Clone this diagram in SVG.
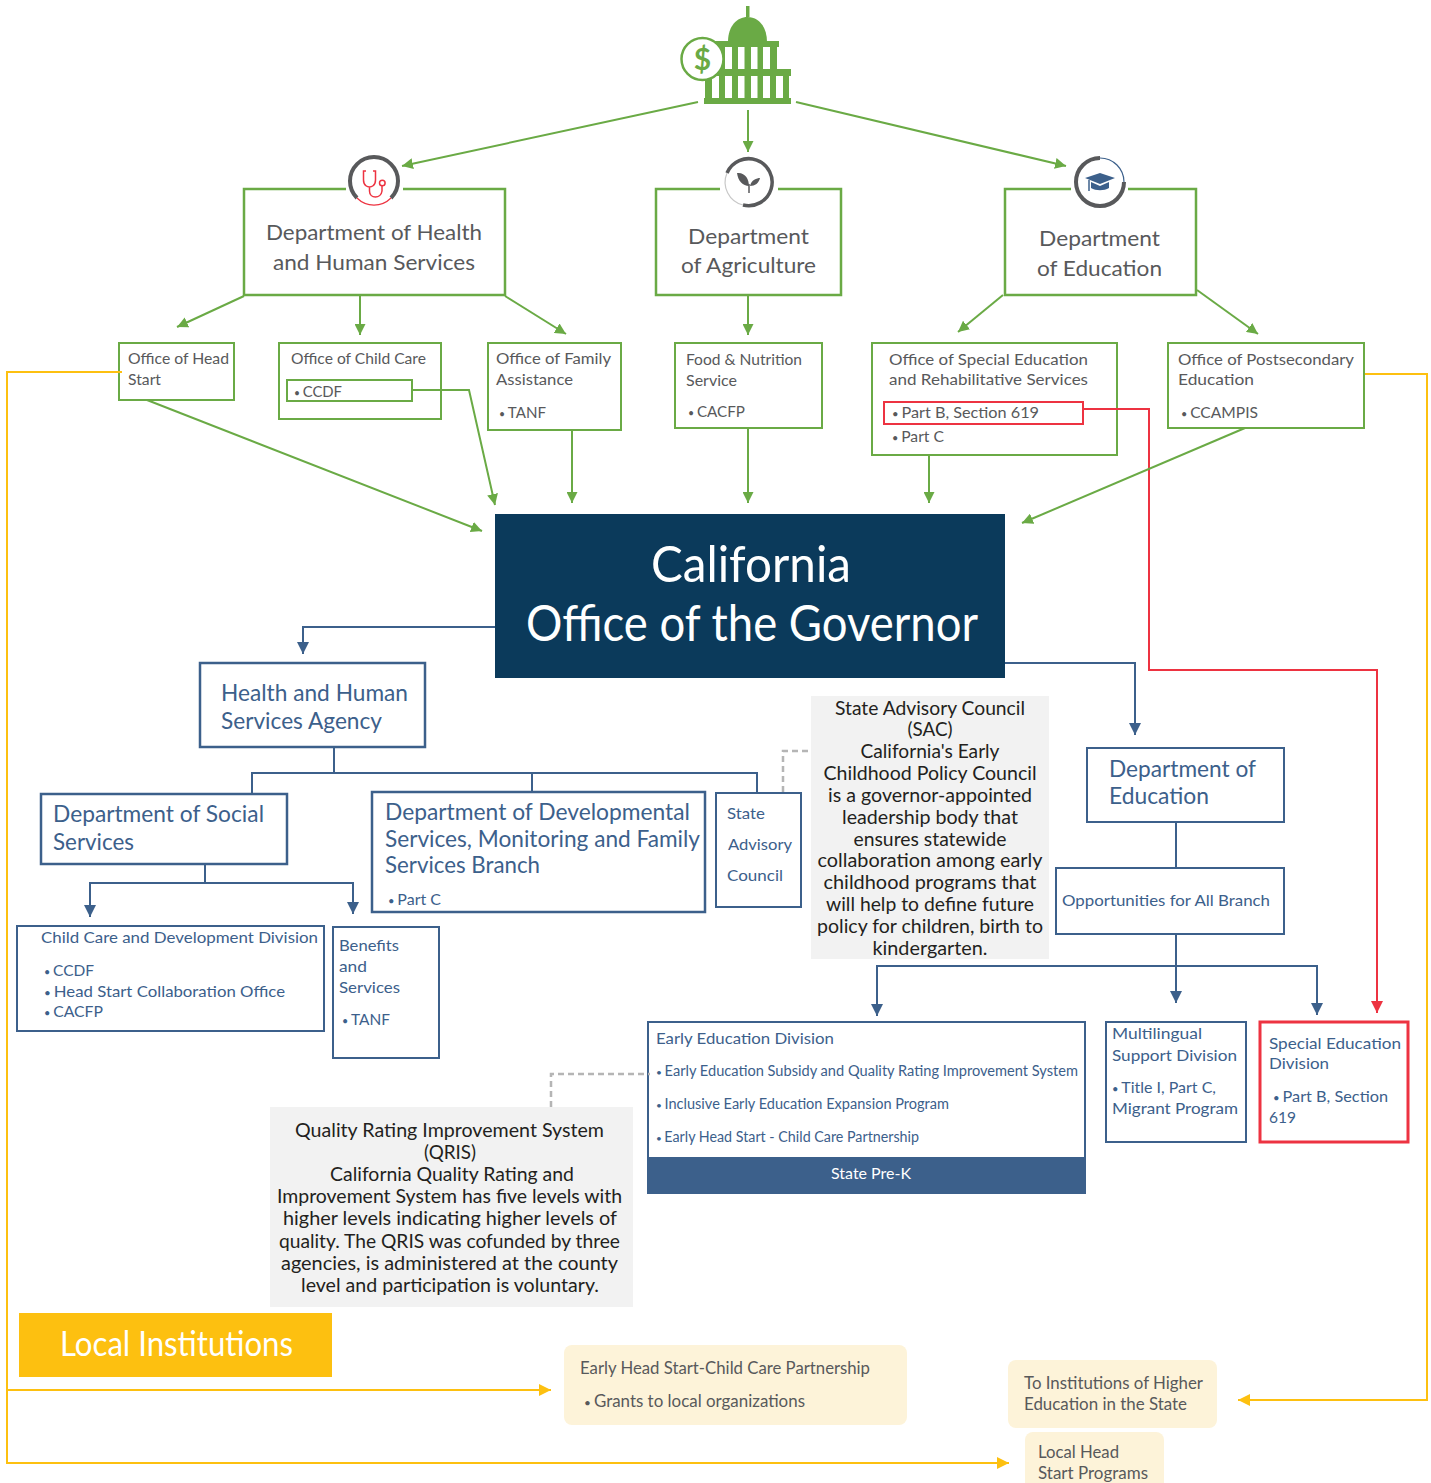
<svg xmlns="http://www.w3.org/2000/svg" width="1431" height="1483" viewBox="0 0 1431 1483">
<style>
text{font-family:Lato,"Noto Sans","Liberation Sans",sans-serif}
.gb{fill:#fff;stroke:#6aaa45;stroke-width:2}
.gf{fill:none;stroke:#6aaa45;stroke-width:2.500}
.bb{fill:#fff;stroke:#3c608b;stroke-width:2}
.bt{fill:#fff;stroke:#3c608b;stroke-width:2.500}
.gl{fill:none;stroke:#6aaa45;stroke-width:2}
.bl{fill:none;stroke:#3c608b;stroke-width:2}
.rl{fill:none;stroke:#ed3341;stroke-width:2}
.yl{fill:none;stroke:#fdc010;stroke-width:2}
.dl{fill:none;stroke:#b5b5b5;stroke-width:2.500;stroke-dasharray:6 4}
.g23{font-size:22px;fill:#58595b}
.g17{font-size:16px;fill:#58595b}
.b24{font-size:23px;fill:#3c608b}
.b17{font-size:16px;fill:#3c608b}
.b15{font-size:14.500px;fill:#3c608b}
.k20{font-size:19.500px;fill:#231f20;text-anchor:middle}
.w52{font-size:50px;fill:#fff}
.y18{font-size:17px;fill:#58595b}
.u{font-size:.7em}
</style>
<defs>
<marker id="ag" markerUnits="userSpaceOnUse" markerWidth="12" markerHeight="11" refX="11" refY="5.500" orient="auto"><path d="M0 0L11 5.500L0 11z" fill="#6aaa45"/></marker>
<marker id="ab" markerUnits="userSpaceOnUse" markerWidth="13" markerHeight="12" refX="12" refY="6" orient="auto"><path d="M0 0L12 6L0 12z" fill="#3c608b"/></marker>
<marker id="ar" markerUnits="userSpaceOnUse" markerWidth="13" markerHeight="12" refX="12" refY="6" orient="auto"><path d="M0 0L12 6L0 12z" fill="#ed3341"/></marker>
<marker id="ay" markerUnits="userSpaceOnUse" markerWidth="13" markerHeight="12" refX="12" refY="6" orient="auto"><path d="M0 0L12 6L0 12z" fill="#fdc010"/></marker>
</defs>

<g id="capitol">
<path d="M746 6h3.500v11h-3.500z" fill="#6aaa45"/>
<path d="M728 42C728 26 737 17 747.500 17C758 17 767 26 767 42z" fill="#6aaa45"/>
<path d="M715 41h64v6h-2v22h14v7h-2v22h2v6h-87v-6h1v-22h8v-7h2z" fill="#6aaa45"/>
<g fill="#fff">
<rect x="725" y="47" width="7" height="22"/><rect x="738" y="47" width="6.500" height="22"/><rect x="751" y="47" width="6.500" height="22"/><rect x="763" y="47" width="7" height="22"/>
<rect x="712" y="76" width="7" height="22"/><rect x="725" y="76" width="7" height="22"/><rect x="738" y="76" width="6.500" height="22"/><rect x="751" y="76" width="6.500" height="22"/><rect x="763" y="76" width="7" height="22"/><rect x="776" y="76" width="7" height="22"/>
</g>
<circle cx="702.500" cy="59" r="21" fill="#fff" stroke="#6aaa45" stroke-width="2.500"/>
<text x="702.500" y="70" font-size="30" font-weight="700" fill="#6aaa45" text-anchor="middle">$</text>
</g>

<g id="dept-hhs">
<path class="gf" d="M346 189H244V295H505V189H403"/>
<text class="g23"><tspan x="266" y="240" textLength="216" lengthAdjust="spacingAndGlyphs">Department of Health</tspan><tspan x="273" y="270" textLength="202" lengthAdjust="spacingAndGlyphs">and Human Services</tspan></text>
<path d="M357 198A24 24 0 1 1 391 198" fill="none" stroke="#58595b" stroke-width="4"/>
<path d="M357 198A24 24 0 0 0 391 198" fill="none" stroke="#ed3341" stroke-width="1.200"/>
<path d="M366 171H363.500V180C363.500 186 368 187 369.500 187C371 187 375.500 186 375.500 180V171H373M369.500 187V191C369.500 199 381 199 382 191V186" fill="none" stroke="#ed3341" stroke-width="1.500"/>
<circle cx="382.300" cy="183" r="2.800" fill="none" stroke="#ed3341" stroke-width="1.500"/>
</g>
<g id="dept-ag">
<path class="gf" d="M720 189H656V295H841V189H778"/>
<text class="g23"><tspan x="688" y="244" textLength="121" lengthAdjust="spacingAndGlyphs">Department</tspan><tspan x="681" y="273" textLength="135" lengthAdjust="spacingAndGlyphs">of Agriculture</tspan></text>
<path d="M727 173A23.500 23.500 0 1 1 743 205" fill="none" stroke="#58595b" stroke-width="3.500"/>
<path d="M743 205A23.500 23.500 0 0 1 727 173" fill="none" stroke="#c8c8c8" stroke-width="1.200"/>
<path d="M737 173C745 172 749 179 749 186C743 186 738 181 737 173zM760 178C757 178 751 180 750 186C755 186 759 183 760 178z" fill="#58595b"/>
<path d="M749 184V193" stroke="#58595b" stroke-width="1.500" fill="none"/>
</g>
<g id="dept-ed">
<path class="gf" d="M1071 189H1005V295H1196V189H1128"/>
<text class="g23"><tspan x="1039" y="246" textLength="121" lengthAdjust="spacingAndGlyphs">Department</tspan><tspan x="1037" y="276" textLength="125" lengthAdjust="spacingAndGlyphs">of Education</tspan></text>
<path d="M1100 158A24 24 0 1 0 1124 182" fill="none" stroke="#58595b" stroke-width="4"/>
<path d="M1100 158A24 24 0 0 1 1124 182" fill="none" stroke="#3c608b" stroke-width="1.200"/>
<path d="M1085 178L1100 173L1115 178L1100 184z" fill="#3c608b"/>
<path d="M1091 182V188C1096 191 1104 191 1109 188V182L1100 186z" fill="#3c608b"/>
<path d="M1089 180V191" stroke="#3c608b" stroke-width="1.500" fill="none"/>
</g>

<g id="office-head-start">
<rect class="gb" x="119" y="343" width="115" height="57"/>
<text class="g17"><tspan x="128" y="364" textLength="101" lengthAdjust="spacingAndGlyphs">Office of Head</tspan><tspan x="128" y="385" textLength="33" lengthAdjust="spacingAndGlyphs">Start</tspan></text>
</g>
<g id="office-child-care">
<rect class="gb" x="279" y="343" width="162" height="76"/>
<text class="g17" x="291" y="364" textLength="135" lengthAdjust="spacingAndGlyphs">Office of Child Care</text>
<rect class="gb" style="fill:none" x="287" y="380" width="125" height="21"/>
<text class="g17" x="294" y="397" textLength="48" lengthAdjust="spacingAndGlyphs"><tspan class="u">• </tspan>CCDF</text>
</g>
<g id="office-family">
<rect class="gb" x="488" y="343" width="133" height="87"/>
<text class="g17"><tspan x="496" y="364" textLength="115" lengthAdjust="spacingAndGlyphs">Office of Family</tspan><tspan x="496" y="385" textLength="77" lengthAdjust="spacingAndGlyphs">Assistance</tspan></text>
<text class="g17" x="499" y="418" textLength="47" lengthAdjust="spacingAndGlyphs"><tspan class="u">• </tspan>TANF</text>
</g>
<g id="food-nutrition">
<rect class="gb" x="675" y="343" width="147" height="85"/>
<text class="g17"><tspan x="686" y="365" textLength="116" lengthAdjust="spacingAndGlyphs">Food &amp; Nutrition</tspan><tspan x="686" y="386" textLength="51" lengthAdjust="spacingAndGlyphs">Service</tspan></text>
<text class="g17" x="688" y="417" textLength="57" lengthAdjust="spacingAndGlyphs"><tspan class="u">• </tspan>CACFP</text>
</g>
<g id="office-special-ed">
<rect class="gb" x="872" y="343" width="245" height="112"/>
<text class="g17"><tspan x="889" y="365" textLength="199" lengthAdjust="spacingAndGlyphs">Office of Special Education</tspan><tspan x="889" y="385" textLength="199" lengthAdjust="spacingAndGlyphs">and Rehabilitative Services</tspan></text>
<rect x="884" y="402" width="199" height="22" fill="none" stroke="#ed3341" stroke-width="2"/>
<text class="g17" x="892" y="418" textLength="147" lengthAdjust="spacingAndGlyphs"><tspan class="u">• </tspan>Part B, Section 619</text>
<text class="g17" x="892" y="442" textLength="52" lengthAdjust="spacingAndGlyphs"><tspan class="u">• </tspan>Part C</text>
</g>
<g id="office-postsecondary">
<rect class="gb" x="1168" y="343" width="196" height="85"/>
<text class="g17"><tspan x="1178" y="365" textLength="176" lengthAdjust="spacingAndGlyphs">Office of Postsecondary</tspan><tspan x="1178" y="385" textLength="76" lengthAdjust="spacingAndGlyphs">Education</tspan></text>
<text class="g17" x="1181" y="418" textLength="77" lengthAdjust="spacingAndGlyphs"><tspan class="u">• </tspan>CCAMPIS</text>
</g>

<g id="governor">
<rect x="495" y="514" width="510" height="164" fill="#0b3a5b"/>
<text class="w52"><tspan x="651" y="582" textLength="200" lengthAdjust="spacingAndGlyphs">California</tspan><tspan x="526" y="641" textLength="452" lengthAdjust="spacingAndGlyphs">Office of the Governor</tspan></text>
</g>
<g id="hhsa">
<rect class="bt" x="200" y="663" width="225" height="84"/>
<text class="b24"><tspan x="221" y="701" textLength="187" lengthAdjust="spacingAndGlyphs">Health and Human</tspan><tspan x="221" y="729" textLength="161" lengthAdjust="spacingAndGlyphs">Services Agency</tspan></text>
</g>
<g id="dss">
<rect class="bt" x="41" y="794" width="246" height="70"/>
<text class="b24"><tspan x="53" y="822" textLength="211" lengthAdjust="spacingAndGlyphs">Department of Social</tspan><tspan x="53" y="850" textLength="81" lengthAdjust="spacingAndGlyphs">Services</tspan></text>
</g>
<g id="dds">
<rect class="bt" x="372" y="792" width="333" height="120"/>
<text class="b24"><tspan x="385" y="820" textLength="305" lengthAdjust="spacingAndGlyphs">Department of Developmental</tspan><tspan x="385" y="847" textLength="315" lengthAdjust="spacingAndGlyphs">Services, Monitoring and Family</tspan><tspan x="385" y="873" textLength="155" lengthAdjust="spacingAndGlyphs">Services Branch</tspan></text>
<text class="b17" x="388" y="905" textLength="53" lengthAdjust="spacingAndGlyphs"><tspan class="u">• </tspan>Part C</text>
</g>
<g id="sac-box">
<rect class="bb" x="716" y="793" width="85" height="114"/>
<text class="b17"><tspan x="727" y="819" textLength="38" lengthAdjust="spacingAndGlyphs">State</tspan><tspan x="728" y="850" textLength="64" lengthAdjust="spacingAndGlyphs">Advisory</tspan><tspan x="727" y="881" textLength="56" lengthAdjust="spacingAndGlyphs">Council</tspan></text>
</g>
<g id="sac-note">
<rect x="811" y="696" width="238" height="263" fill="#f2f2f2"/>
<text class="k20"><tspan x="930" y="715" textLength="190" lengthAdjust="spacingAndGlyphs">State Advisory Council</tspan><tspan x="930" y="736" textLength="45" lengthAdjust="spacingAndGlyphs">(SAC)</tspan><tspan x="930" y="758" textLength="139" lengthAdjust="spacingAndGlyphs">California's Early</tspan><tspan x="930" y="780" textLength="213" lengthAdjust="spacingAndGlyphs">Childhood Policy Council</tspan><tspan x="930" y="802" textLength="204" lengthAdjust="spacingAndGlyphs">is a governor-appointed</tspan><tspan x="930" y="824" textLength="176" lengthAdjust="spacingAndGlyphs">leadership body that</tspan><tspan x="930" y="846" textLength="153" lengthAdjust="spacingAndGlyphs">ensures statewide</tspan><tspan x="930" y="867" textLength="225" lengthAdjust="spacingAndGlyphs">collaboration among early</tspan><tspan x="930" y="889" textLength="213" lengthAdjust="spacingAndGlyphs">childhood programs that</tspan><tspan x="930" y="911" textLength="208" lengthAdjust="spacingAndGlyphs">will help to define future</tspan><tspan x="930" y="933" textLength="226" lengthAdjust="spacingAndGlyphs">policy for children, birth to</tspan><tspan x="930" y="955" textLength="115" lengthAdjust="spacingAndGlyphs">kindergarten.</tspan></text>
</g>
<g id="ca-doe">
<rect class="bb" x="1087" y="748" width="197" height="74"/>
<text class="b24"><tspan x="1109" y="777" textLength="147" lengthAdjust="spacingAndGlyphs">Department of</tspan><tspan x="1109" y="804" textLength="100" lengthAdjust="spacingAndGlyphs">Education</tspan></text>
</g>
<g id="opportunities">
<rect class="bb" x="1056" y="868" width="228" height="66"/>
<text class="b17" x="1062" y="906" textLength="208" lengthAdjust="spacingAndGlyphs">Opportunities for All Branch</text>
</g>
<g id="ccdd">
<rect class="bb" x="17" y="926" width="307" height="105"/>
<text class="b17" x="41" y="943" textLength="277" lengthAdjust="spacingAndGlyphs">Child Care and Development Division</text>
<text class="b17" x="44" y="976" textLength="50" lengthAdjust="spacingAndGlyphs"><tspan class="u">• </tspan>CCDF</text>
<text class="b17" x="44" y="997" textLength="241" lengthAdjust="spacingAndGlyphs"><tspan class="u">• </tspan>Head Start Collaboration Office</text>
<text class="b17" x="44" y="1017" textLength="59" lengthAdjust="spacingAndGlyphs"><tspan class="u">• </tspan>CACFP</text>
</g>
<g id="benefits">
<rect class="bb" x="333" y="927" width="106" height="131"/>
<text class="b17"><tspan x="339" y="951" textLength="60" lengthAdjust="spacingAndGlyphs">Benefits</tspan><tspan x="339" y="972" textLength="28" lengthAdjust="spacingAndGlyphs">and</tspan><tspan x="339" y="993" textLength="61" lengthAdjust="spacingAndGlyphs">Services</tspan></text>
<text class="b17" x="342" y="1025" textLength="48" lengthAdjust="spacingAndGlyphs"><tspan class="u">• </tspan>TANF</text>
</g>
<g id="eed">
<rect class="bb" x="648" y="1022" width="437" height="171"/>
<rect x="647" y="1157" width="439" height="37" fill="#3c608b"/>
<text class="b17" x="656" y="1044" textLength="178" lengthAdjust="spacingAndGlyphs">Early Education Division</text>
<text class="b15" x="656" y="1076" textLength="422" lengthAdjust="spacingAndGlyphs"><tspan class="u">• </tspan>Early Education Subsidy and Quality Rating Improvement System</text>
<text class="b15" x="656" y="1109" textLength="293" lengthAdjust="spacingAndGlyphs"><tspan class="u">• </tspan>Inclusive Early Education Expansion Program</text>
<text class="b15" x="656" y="1142" textLength="263" lengthAdjust="spacingAndGlyphs"><tspan class="u">• </tspan>Early Head Start - Child Care Partnership</text>
<text x="831" y="1179" font-size="16" fill="#fff" textLength="80" lengthAdjust="spacingAndGlyphs">State Pre-K</text>
</g>
<g id="multilingual">
<rect class="bb" x="1106" y="1022" width="140" height="120"/>
<text class="b17"><tspan x="1112" y="1039" textLength="90" lengthAdjust="spacingAndGlyphs">Multilingual</tspan><tspan x="1112" y="1061" textLength="125" lengthAdjust="spacingAndGlyphs">Support Division</tspan></text>
<text class="b17" x="1112" y="1093" textLength="104" lengthAdjust="spacingAndGlyphs"><tspan class="u">• </tspan>Title I, Part C,</text>
<text class="b17" x="1112" y="1114" textLength="126" lengthAdjust="spacingAndGlyphs">Migrant Program</text>
</g>
<g id="special-ed">
<rect x="1260" y="1022" width="148" height="120" fill="#fff" stroke="#ed3341" stroke-width="3"/>
<text class="b17"><tspan x="1269" y="1049" textLength="132" lengthAdjust="spacingAndGlyphs">Special Education</tspan><tspan x="1269" y="1069" textLength="60" lengthAdjust="spacingAndGlyphs">Division</tspan></text>
<text class="b17" x="1273" y="1102" textLength="115" lengthAdjust="spacingAndGlyphs"><tspan class="u">• </tspan>Part B, Section</text>
<text class="b17" x="1269" y="1123" textLength="27" lengthAdjust="spacingAndGlyphs">619</text>
</g>
<g id="qris-note">
<rect x="270" y="1107" width="363" height="200" fill="#f2f2f2"/>
<text class="k20"><tspan x="449.500" y="1137" textLength="309" lengthAdjust="spacingAndGlyphs">Quality Rating Improvement System</tspan><tspan x="450" y="1159" textLength="52" lengthAdjust="spacingAndGlyphs">(QRIS)</tspan><tspan x="452" y="1181" textLength="244" lengthAdjust="spacingAndGlyphs">California Quality Rating and</tspan><tspan x="449.500" y="1203" textLength="345" lengthAdjust="spacingAndGlyphs">Improvement System has five levels with</tspan><tspan x="450" y="1225" textLength="334" lengthAdjust="spacingAndGlyphs">higher levels indicating higher levels of</tspan><tspan x="449.500" y="1248" textLength="341" lengthAdjust="spacingAndGlyphs">quality. The QRIS was cofunded by three</tspan><tspan x="449.500" y="1270" textLength="337" lengthAdjust="spacingAndGlyphs">agencies, is administered at the  county</tspan><tspan x="450" y="1292" textLength="298" lengthAdjust="spacingAndGlyphs">level and participation is voluntary.</tspan></text>
</g>
<g id="local-institutions">
<rect x="19" y="1313" width="313" height="64" fill="#fdc010"/>
<text x="60" y="1356" font-size="34" fill="#fff" textLength="233" lengthAdjust="spacingAndGlyphs">Local Institutions</text>
</g>
<g id="local-ehs">
<rect x="564" y="1345" width="343" height="80" rx="8" fill="#fdf3d9"/>
<text class="y18" x="580" y="1374" textLength="290" lengthAdjust="spacingAndGlyphs">Early Head Start-Child Care Partnership</text>
<text class="y18" x="584" y="1407" textLength="221" lengthAdjust="spacingAndGlyphs"><tspan class="u">• </tspan>Grants to local organizations</text>
</g>
<g id="local-higher-ed">
<rect x="1008" y="1360" width="209" height="68" rx="8" fill="#fdf3d9"/>
<text class="y18"><tspan x="1024" y="1389" textLength="179" lengthAdjust="spacingAndGlyphs">To Institutions of Higher</tspan><tspan x="1024" y="1410" textLength="163" lengthAdjust="spacingAndGlyphs">Education in the State</tspan></text>
</g>
<g id="local-head-start">
<path d="M1033 1432H1156a8 8 0 0 1 8 8V1483H1025V1440a8 8 0 0 1 8-8z" fill="#fdf3d9"/>
<text class="y18"><tspan x="1038" y="1458" textLength="81" lengthAdjust="spacingAndGlyphs">Local Head</tspan><tspan x="1038" y="1479" textLength="110" lengthAdjust="spacingAndGlyphs">Start Programs</tspan></text>
</g>

<g id="connectors">
<path class="gl" d="M698 102L402 166" marker-end="url(#ag)"/>
<path class="gl" d="M748 110V152" marker-end="url(#ag)"/>
<path class="gl" d="M796 102L1066 166" marker-end="url(#ag)"/>
<path class="gl" d="M244 296L177 327" marker-end="url(#ag)"/>
<path class="gl" d="M360 296V335" marker-end="url(#ag)"/>
<path class="gl" d="M505 296L566 334" marker-end="url(#ag)"/>
<path class="gl" d="M748 296V335" marker-end="url(#ag)"/>
<path class="gl" d="M1003 295L958 332" marker-end="url(#ag)"/>
<path class="gl" d="M1197 290L1258 334" marker-end="url(#ag)"/>
<path class="rl" d="M1084 409H1149V670H1377V1013" marker-end="url(#ar)"/>
<path class="gl" d="M147 400L482 531" marker-end="url(#ag)"/>
<path class="gl" d="M412 390H469L495 505" marker-end="url(#ag)"/>
<path class="gl" d="M572 430V503" marker-end="url(#ag)"/>
<path class="gl" d="M748 428V503" marker-end="url(#ag)"/>
<path class="gl" d="M929 456V503" marker-end="url(#ag)"/>
<path class="gl" d="M1245 428L1022 523" marker-end="url(#ag)"/>
<path class="bl" d="M495 627H303V654" marker-end="url(#ab)"/>
<path class="bl" d="M1005 663H1135V735" marker-end="url(#ab)"/>
<path class="bl" d="M334 747V773M252 793V773H757V793M532 773V791"/>
<path class="bl" d="M205 864V883"/>
<path class="bl" d="M205 883H90V917" marker-end="url(#ab)"/>
<path class="bl" d="M205 883H353V914" marker-end="url(#ab)"/>
<path class="bl" d="M1176 822V868"/>
<path class="bl" d="M1176 934V1003" marker-end="url(#ab)"/>
<path class="bl" d="M1176 966H877V1016" marker-end="url(#ab)"/>
<path class="bl" d="M1176 966H1317V1015" marker-end="url(#ab)"/>
<path class="dl" d="M783 792V751H811"/>
<path class="dl" d="M551 1107V1074H650"/>
<path class="yl" d="M122 372H7V1463H1009" marker-end="url(#ay)"/>
<path class="yl" d="M7 1390H551" marker-end="url(#ay)"/>
<path class="yl" d="M1365 374H1427V1400H1238" marker-end="url(#ay)"/>
</g>
</svg>
